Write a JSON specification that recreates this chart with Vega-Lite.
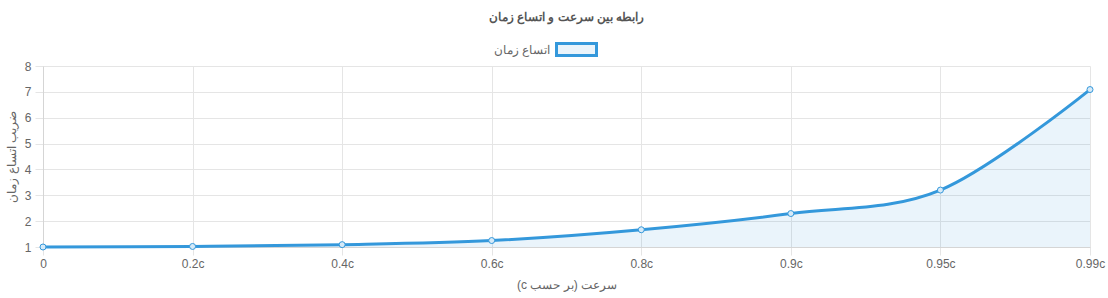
{
  "$schema": "https://vega.github.io/schema/vega-lite/v6.json",
  "width": 1047,
  "height": 181,
  "autosize": {"type": "none"},
  "padding": {"left": 43, "top": 66, "right": 18, "bottom": 51},
  "title": {
    "text": "\u202bرابطه بین سرعت و اتساع زمان\u202c",
    "font": "Liberation Sans",
    "fontSize": 12,
    "fontWeight": "bold",
    "color": "#555555",
    "anchor": "middle",
    "frame": "group",
    "offset": 4
  },
  "config": {
    "font": "Liberation Sans",
    "view": {"stroke": null},
    "axis": {
      "labelFont": "Liberation Sans",
      "labelFontSize": 12,
      "labelColor": "#666666",
      "titleFont": "Liberation Sans",
      "titleFontSize": 12,
      "titleFontWeight": "normal",
      "titleColor": "#666666",
      "gridColor": "#e5e5e5",
      "tickColor": "#e5e5e5",
      "domainColor": "#d5d5d5",
      "tickSize": 8
    }
  },
  "data": {
    "values": [
      {"v": "0", "gamma": 1.0, "series": "اتساع زمان"},
      {"v": "0.2c", "gamma": 1.0206, "series": "اتساع زمان"},
      {"v": "0.4c", "gamma": 1.0911, "series": "اتساع زمان"},
      {"v": "0.6c", "gamma": 1.25, "series": "اتساع زمان"},
      {"v": "0.8c", "gamma": 1.6667, "series": "اتساع زمان"},
      {"v": "0.9c", "gamma": 2.2942, "series": "اتساع زمان"},
      {"v": "0.95c", "gamma": 3.2026, "series": "اتساع زمان"},
      {"v": "0.99c", "gamma": 7.0888, "series": "اتساع زمان"}
    ]
  },
  "encoding": {
    "x": {
      "field": "v",
      "type": "ordinal",
      "sort": null,
      "scale": {"type": "point", "padding": 0},
      "axis": {
        "title": "\u202bسرعت (بر حسب c)\u202c",
        "labelAngle": 0,
        "grid": true,
        "labelPadding": 3,
        "titlePadding": 10
      }
    },
    "y": {
      "field": "gamma",
      "type": "quantitative",
      "scale": {"domain": [1, 8], "nice": false, "zero": false},
      "axis": {
        "title": "ضریب اتساع زمان",
        "values": [1, 2, 3, 4, 5, 6, 7, 8],
        "grid": true,
        "labelPadding": 4,
        "titlePadding": 6
      }
    }
  },
  "layer": [
    {
      "mark": {"type": "area", "interpolate": "cardinal", "tension": 0, "color": "#3498db", "fillOpacity": 0.1},
      "encoding": {"y2": {"datum": 1}}
    },
    {
      "mark": {"type": "line", "interpolate": "cardinal", "tension": 0, "strokeWidth": 3},
      "encoding": {
        "color": {
          "field": "series",
          "type": "nominal",
          "scale": {"range": ["#3498db"]},
          "legend": {
            "title": null,
            "orient": "none",
            "legendX": 512,
            "legendY": -38,
            "symbolType": "M-1,-0.3H1V0.3H-1Z",
            "symbolSize": 1600,
            "symbolStrokeWidth": 3,
            "symbolFillColor": "#eaf4fb",
            "symbolStrokeColor": "#3498db",
            "labelFont": "Liberation Sans",
            "labelFontSize": 12,
            "labelColor": "#666666",
            "labelAlign": "right",
            "labelOffset": -48
          }
        }
      }
    },
    {
      "mark": {"type": "point", "shape": "circle", "size": 36, "filled": true, "fill": "#d6eaf8", "stroke": "#3498db", "strokeWidth": 1, "opacity": 1}
    }
  ]
}
